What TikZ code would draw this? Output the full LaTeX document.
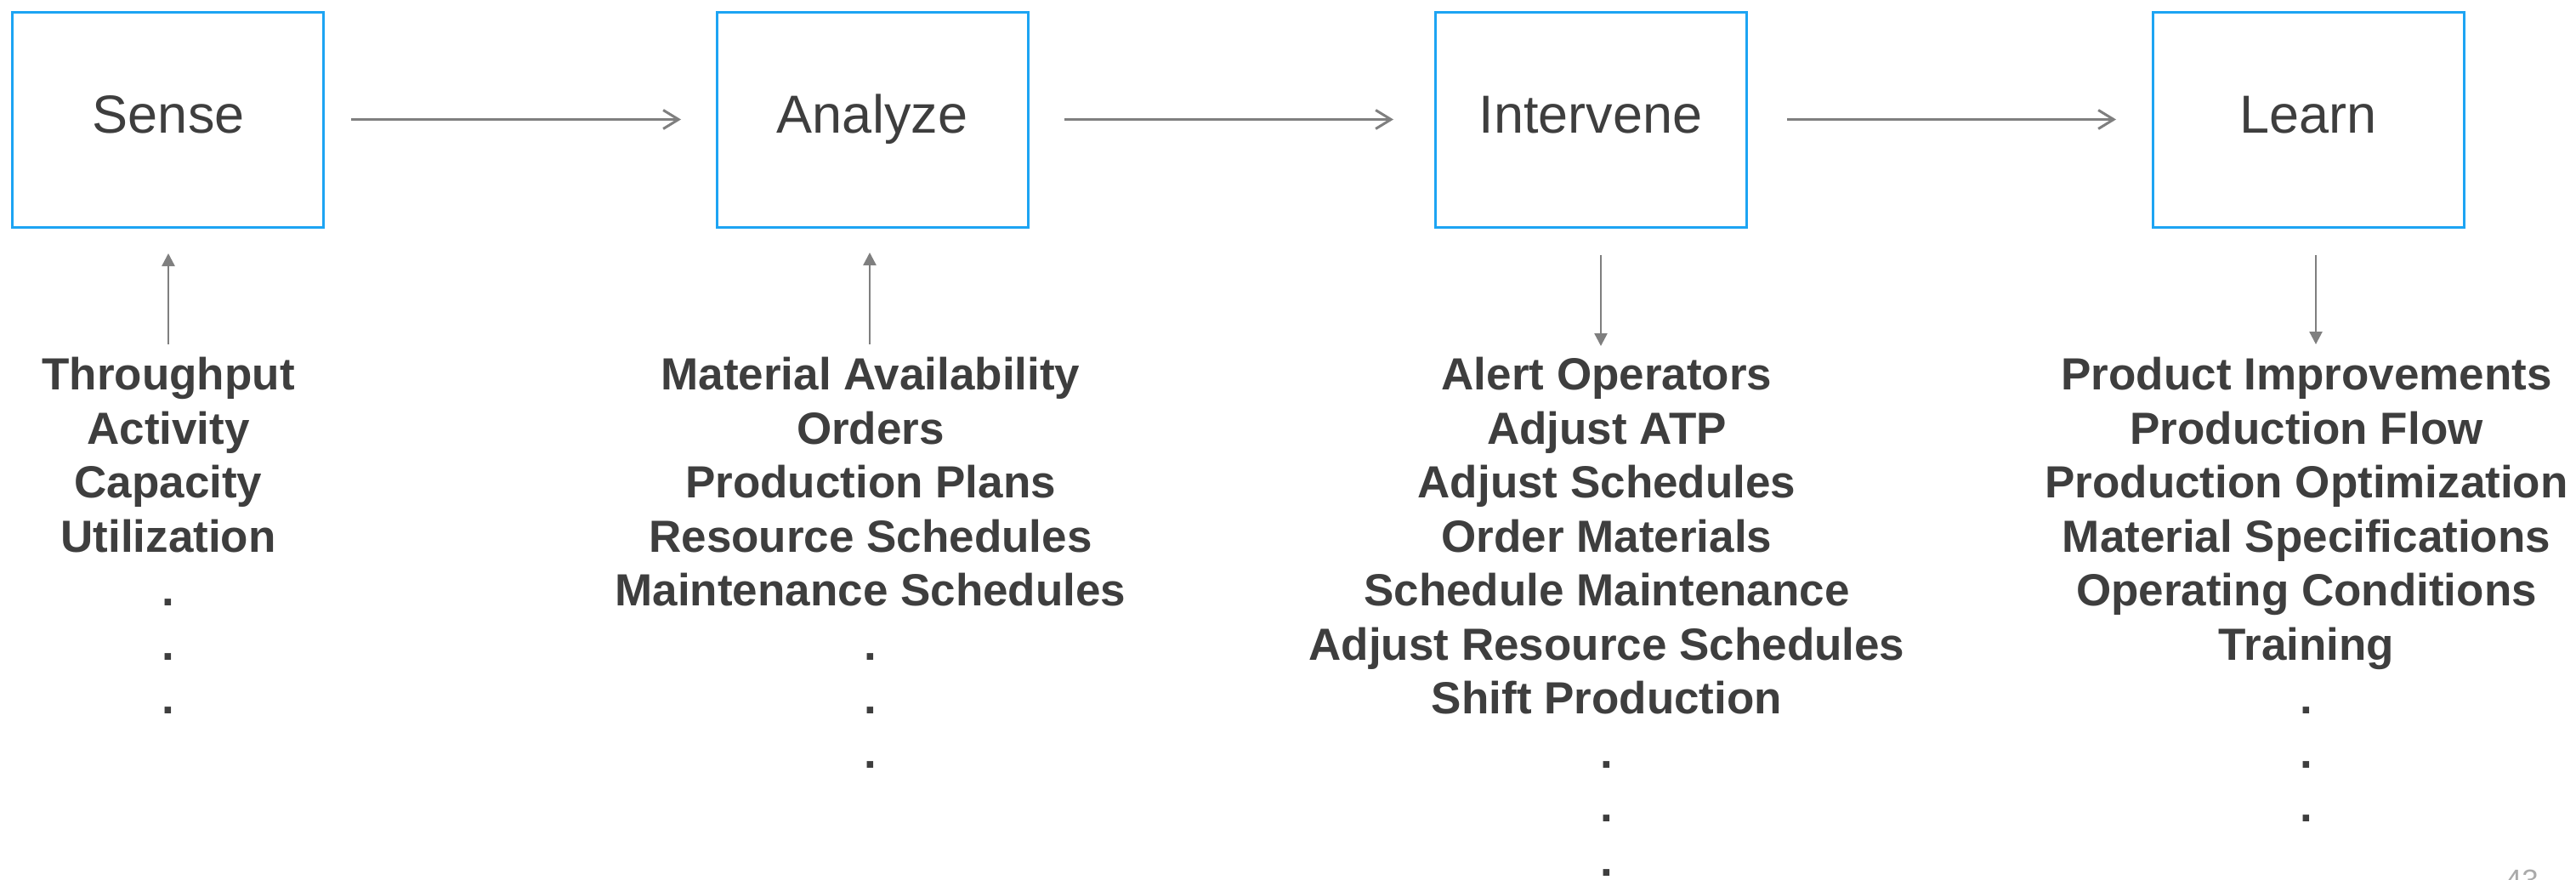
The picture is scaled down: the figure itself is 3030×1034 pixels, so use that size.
\documentclass[tikz,border=0pt]{standalone}
\usepackage{fontspec}
\setmainfont{Liberation Sans}
\usetikzlibrary{arrows.meta}

\definecolor{boxblue}{RGB}{29,164,243}
\definecolor{arrowgray}{RGB}{127,127,127}
\definecolor{textgray}{RGB}{62,62,62}
\definecolor{pagegray}{RGB}{170,170,170}

\begin{document}
\begin{tikzpicture}[x=1pt,y=-1pt,
  stagebox/.style={draw=boxblue, line width=3pt, minimum width=366pt,
    minimum height=253pt, inner sep=0pt},
  stagelabel/.style={anchor=base, text=textgray, inner sep=0pt,
    font=\fontsize{63}{75}\selectfont},
  itemlist/.style={anchor=north, align=center, text=textgray, inner sep=0pt,
    font=\bfseries\fontsize{53}{63.5}\selectfont},
  flow/.style={draw=arrowgray, line width=3pt,
    -{Straight Barb[length=18pt,width=22pt]}},
  feed/.style={draw=arrowgray, line width=2.5pt,
    -{Triangle[length=15pt,width=15pt]}},
]
\useasboundingbox (0,0) rectangle (3030,1034);
\clip (0,0) rectangle (3030,1034);

% the four stages
\node[stagebox] (sense)     at (197.25,140.5) {};
\node[stagebox] (analyze)   at (1026,140.5)   {};
\node[stagebox] (intervene) at (1871,140.5)   {};
\node[stagebox] (learn)     at (2715,140.5)   {};

\node[stagelabel] (sense-t)     at ([xshift=1pt,yshift=-15.5pt]sense.center)     {Sense};
\node[stagelabel] (analyze-t)   at ([yshift=-15.5pt]analyze.center)   {Analyze};
\node[stagelabel] (intervene-t) at ([yshift=-15.5pt]intervene.center) {Intervene};
\node[stagelabel] (learn-t)     at ([yshift=-15.5pt]learn.center)     {Learn};

% flow between the stages
\draw[flow, shorten <=31pt, shorten >=40.5pt] (sense.east) -- (analyze.west);
\draw[flow, shorten <=41.5pt, shorten >=47.5pt] (analyze.east) -- (intervene.west);
\draw[flow, shorten <=46.5pt, shorten >=41.5pt] (intervene.east) -- (learn.west);

% item lists under each stage
\node[itemlist] (sense-items) at (198,420)
  {Throughput\\Activity\\Capacity\\Utilization\\.\\.\\.};
\node[itemlist] (analyze-items) at (1024,420)
  {Material Availability\\Orders\\Production Plans\\Resource Schedules\\Maintenance Schedules\\.\\.\\.};
\node[itemlist] (intervene-items) at (1890,420)
  {Alert Operators\\Adjust ATP\\Adjust Schedules\\Order Materials\\Schedule Maintenance\\Adjust Resource Schedules\\Shift Production\\.\\.\\.};
\node[itemlist] (learn-items) at (2713,420)
  {Product Improvements\\Production Flow\\Production Optimization\\Material Specifications\\Operating Conditions\\Training\\.\\.\\.};

% inputs and outputs
\coordinate (sense-in)      at (198,405);
\coordinate (analyze-in)    at (1023,405);
\coordinate (intervene-out) at (1883,407);
\coordinate (learn-out)     at (2724,405);

\draw[feed, shorten >=29.5pt] (sense-in) -- (sense-in |- sense.south);
\draw[feed, shorten >=28.5pt] (analyze-in) -- (analyze-in |- analyze.south);
\draw[feed, shorten <=31.5pt] (intervene-out |- intervene.south) -- (intervene-out);
\draw[feed, shorten <=31.5pt] (learn-out |- learn.south) -- (learn-out);

% page number
\node[anchor=base east, text=pagegray, inner sep=0pt,
  font=\fontsize{35}{40}\selectfont] (pageno) at (2986,1047) {43};
\end{tikzpicture}
\end{document}
